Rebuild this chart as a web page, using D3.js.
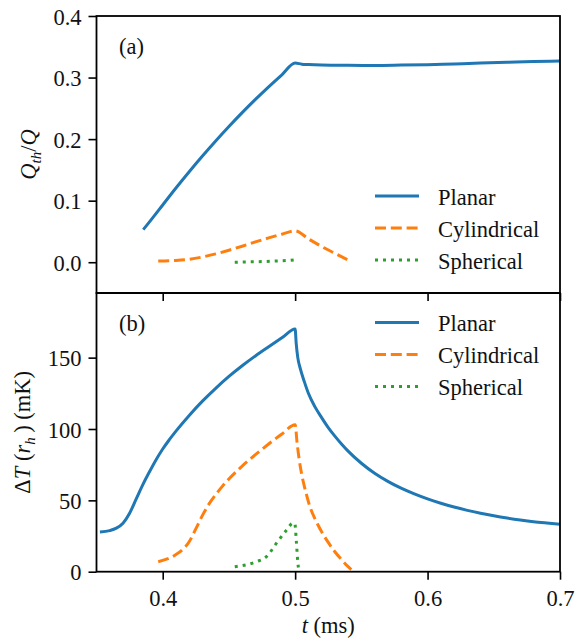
<!DOCTYPE html>
<html><head><meta charset="utf-8">
<script src="https://cdn.jsdelivr.net/npm/d3@7"></script>
<style>
body{margin:0;background:#fff;}
svg text{font-family:"Liberation Serif","Times New Roman",serif;fill:#111;}
</style></head>
<body><svg id="c" width="583" height="640"></svg>
<script>
// ---- data ----
const seriesNames = ["Planar", "Cylindrical", "Spherical"];
const seriesColors = ["#1f77b4", "#ff7f0e", "#2ca02c"];
const xTicks = [0.4, 0.5, 0.6, 0.7];
const topYTicks = [0.0, 0.1, 0.2, 0.3, 0.4];
const botYTicks = [0, 50, 100, 150];

// Panel (a): Q_th/Q
const qPlanarT = [0.3853,0.39,0.40,0.41,0.42,0.43,0.44,0.45,0.46,0.47,0.48,0.49,0.5,0.505,0.51,0.52,0.54,0.56,0.58,0.60,0.62,0.64,0.66,0.68,0.70];
const qPlanarV = [0.053,0.0655,0.093,0.1205,0.147,0.1725,0.197,0.2205,0.243,0.2645,0.285,0.3045,0.3235,0.3218,0.3212,0.3204,0.3198,0.3196,0.3202,0.3210,0.3222,0.3235,0.3248,0.3260,0.3270];
const qCylT = [0.3966,0.41,0.42,0.43,0.44,0.45,0.46,0.47,0.48,0.49,0.5,0.51,0.52,0.53,0.5424];
const qCylV = [0.0018,0.0028,0.0048,0.0085,0.0135,0.0195,0.026,0.033,0.0395,0.0455,0.051,0.038,0.0255,0.0145,0.001];
const qSphT = [0.4544,0.465,0.475,0.485,0.495,0.5];
const qSphV = [0.0,0.0005,0.001,0.002,0.003,0.004];

// Panel (b): ΔT(r_h) in mK
const dPlanarT = [0.3526,0.36,0.365,0.37,0.375,0.38,0.385,0.39,0.395,0.40,0.405,0.41,0.42,0.43,0.44,0.45,0.46,0.47,0.48,0.49,0.5,0.5008,0.502,0.504,0.507,0.51,0.515,0.52,0.525,0.53,0.535,0.54,0.55,0.56,0.57,0.58,0.59,0.60,0.61,0.62,0.63,0.64,0.65,0.66,0.67,0.68,0.69,0.70];
const dPlanarV = [27.8,28.8,30.5,34,41,51,61,70,78.5,86,92.5,98.5,109.5,119.5,128.5,136.8,144.3,151.2,157.6,163.9,170,160,150,142,133,125,115.5,108,101,95,89.5,84.5,76,69,63.3,58.5,54.5,51,48,45.3,43,41,39.2,37.6,36.2,35,34.1,33.3];
const dCylT = [0.3966,0.405,0.41,0.415,0.42,0.425,0.43,0.435,0.44,0.445,0.45,0.46,0.47,0.48,0.49,0.5,0.5015,0.503,0.505,0.508,0.511,0.515,0.52,0.525,0.53,0.535,0.54,0.5424];
const dCylV = [7,9.5,12,15.5,21,30,39.5,47.5,54,59.8,65,74,82,89.5,96.5,103,90,79,68,56,46,37,28,20.5,14,8.5,3.5,1.5];
const dSphT = [0.4544,0.4708,0.4783,0.4859,0.4934,0.4984,0.4997,0.501,0.5022,0.5025];
const dSphV = [3.5,7,10.5,20,29,34,34,20,4.7,3];

// ---- layout ----
const svg = d3.select("#c");
const L = 96.5, R = 560;
const aTop = 16, aBot = 293, bTop = 293, bBot = 571.7;
const x = d3.scaleLinear().domain([0.35, 0.7]).range([L, R]);
const yA = d3.scaleLinear().domain([-0.05, 0.4]).range([aBot, aTop]);
const yB = d3.scaleLinear().domain([0, 195.3]).range([bBot, bTop]);
const FS = 22.5;
const dashes = [null, "11,4.8", "3,5"];

function zip(t, v){ return t.map((d,i)=>[d, v[i]]); }

function panel(y, top, bot, yTicks, fmt, data, showXLabels){
  const g = svg.append("g");
  const clipId = "clip" + Math.round(top);
  svg.append("clipPath").attr("id", clipId).append("rect")
    .attr("x", L).attr("y", top).attr("width", R-L).attr("height", bot-top);
  const line = d3.line().x(d=>x(d[0])).y(d=>y(d[1])).curve(d3.curveMonotoneX);
  data.forEach((pts, i) => {
    g.append("path").attr("d", line(pts)).attr("fill","none")
      .attr("stroke", seriesColors[i]).attr("stroke-width", 3)
      .attr("stroke-dasharray", dashes[i]).attr("clip-path", `url(#${clipId})`);
  });
  const ax = g.append("g").attr("transform", `translate(0,${bot})`)
    .call(d3.axisBottom(x).tickValues(xTicks).tickSize(8).tickPadding(10).tickFormat(showXLabels ? d3.format(".1f") : ""));
  const ay = g.append("g").attr("transform", `translate(${L},0)`)
    .call(d3.axisLeft(y).tickValues(yTicks).tickSize(8).tickPadding(7).tickFormat(fmt));
  [ax, ay].forEach(a => {
    a.select(".domain").remove();
    a.selectAll("line").attr("stroke", "#000").attr("stroke-width", 1.6);
    a.selectAll("text").attr("font-size", FS).attr("font-family", "Liberation Serif").attr("fill", "#111");
  });
  ay.selectAll("text").attr("dy", "0.36em");
  g.append("rect").attr("x", L).attr("y", top).attr("width", R-L).attr("height", bot-top)
    .attr("fill", "none").attr("stroke", "#000").attr("stroke-width", 1.8);
  return g;
}

panel(yA, aTop, aBot, topYTicks, d3.format(".1f"),
  [zip(qPlanarT,qPlanarV), zip(qCylT,qCylV), zip(qSphT,qSphV)], false);
panel(yB, bTop, bBot, botYTicks, d3.format("d"),
  [zip(dPlanarT,dPlanarV), zip(dCylT,dCylV), zip(dSphT,dSphV)], true);

// panel labels
svg.append("text").attr("x", 119).attr("y", 54).attr("font-size", FS).text("(a)");
svg.append("text").attr("x", 119).attr("y", 331).attr("font-size", FS).text("(b)");

// legends
function legend(y0){
  seriesNames.forEach((n, i) => {
    const yy = y0 + i*32;
    svg.append("line").attr("x1", 375).attr("x2", 419).attr("y1", yy).attr("y2", yy)
      .attr("stroke", seriesColors[i]).attr("stroke-width", 3).attr("stroke-dasharray", dashes[i]);
    svg.append("text").attr("x", 438).attr("y", yy + 8.5).attr("font-size", FS).text(n);
  });
}
legend(196);
legend(322.5);

// axis labels
const xl = svg.append("text").attr("x", (L+R)/2).attr("y", 633).attr("text-anchor","middle").attr("font-size", FS);
xl.append("tspan").attr("font-style","italic").text("t");
xl.append("tspan").text(" (ms)");

const ylA = svg.append("text").attr("transform", `translate(36,${(aTop+aBot)/2}) rotate(-90)`)
  .attr("text-anchor","middle").attr("font-size", FS);
ylA.append("tspan").attr("font-style","italic").text("Q");
ylA.append("tspan").attr("font-style","italic").attr("font-size", 15).attr("dy", 5).text("th");
ylA.append("tspan").attr("dy", -5).text("/");
ylA.append("tspan").attr("font-style","italic").text("Q");

const ylB = svg.append("text").attr("transform", `translate(30,${(bTop+bBot)/2}) rotate(-90)`)
  .attr("text-anchor","middle").attr("font-size", FS);
ylB.append("tspan").text("Δ");
ylB.append("tspan").attr("font-style","italic").text("T");
ylB.append("tspan").text(" (");
ylB.append("tspan").attr("font-style","italic").text("r");
ylB.append("tspan").attr("font-style","italic").attr("font-size", 15).attr("dy", 5).text("h");
ylB.append("tspan").attr("dy", -5).text("\u2009) (mK)");
</script></body></html>
